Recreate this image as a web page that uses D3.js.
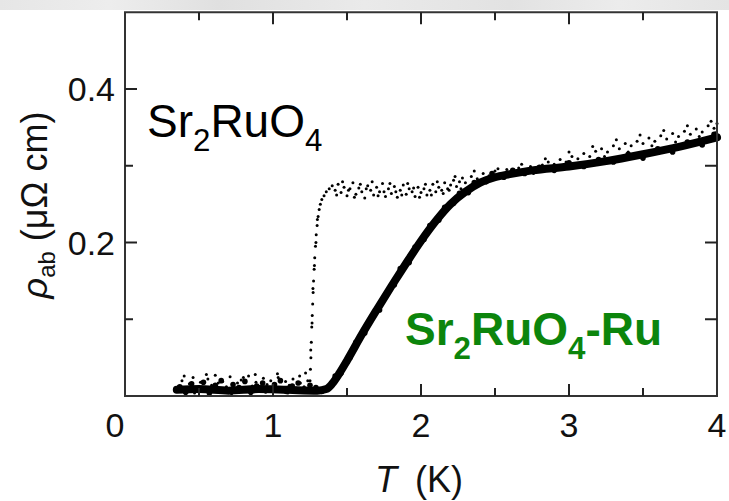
<!DOCTYPE html>
<html><head><meta charset="utf-8">
<script src="https://cdn.jsdelivr.net/npm/d3@7"></script>
<style>body{margin:0;background:#fff}svg{display:block}text{font-family:"Liberation Sans",Arial,sans-serif}</style>
</head><body><svg id="c" width="729" height="501"></svg>
<script>
// ---- data ----
const xTicksMajor = [0, 1, 2, 3, 4];
const xTicksMinor = [0.5, 1.5, 2.5, 3.5];
const yTicksMajor = [0.2, 0.4];
const yTicksMinor = [0.1, 0.3];
const yTicksRight = [0.1, 0.2, 0.3, 0.4];
const xTickLabels = ["0", "1", "2", "3", "4"];
const yTickLabels = ["0.2", "0.4"];

// Sr2RuO4 (pure) : scattered small dots [T (K), rho (μΩ cm)]
const pureT = [0.36,0.385,0.41,0.435,0.46,0.485,0.51,0.535,0.56,0.585,0.61,0.635,0.66,0.685,0.71,0.735,0.76,0.785,0.81,0.835,0.86,0.885,0.91,0.935,0.96,0.985,1.01,1.035,1.06,1.085,1.11,1.135,1.16,1.185,1.21,1.235,
 1.25,1.253,1.256,1.259,1.262,1.265,1.268,1.271,1.274,1.278,1.282,1.287,1.292,1.298,1.305,1.312,1.32,1.33,1.345,1.36,1.38,1.40,
 1.42,1.44,1.46,1.48,1.50,1.52,1.54,1.56,1.58,1.60,1.62,1.64,1.66,1.68,1.70,1.72,1.74,1.76,1.78,1.80,1.82,1.84,1.86,1.88,1.90,1.92,1.94,1.96,1.98,2.00,2.02,2.04,2.06,2.08,2.10,2.12,2.14,2.16,2.18,2.20,2.22,2.24,2.26,2.28,2.30,
 2.34,2.38,2.42,2.46,2.50,2.54,2.58,2.62,2.66,2.70,2.74,2.78,2.82,2.86,2.90,2.94,2.98,3.02,3.06,3.10,3.14,3.18,3.22,3.26,3.30,3.34,3.38,3.42,3.46,3.50,3.54,3.58,3.62,3.66,3.70,3.74,3.78,3.82,3.86,3.90,3.94,3.98,4.00];
const pureRho = [0.012,0.020,0.008,0.016,0.024,0.010,0.018,0.006,0.022,0.014,0.027,0.009,0.019,0.012,0.025,0.007,0.017,0.021,0.010,0.026,0.013,0.018,0.008,0.023,0.015,0.020,0.011,0.024,0.009,0.019,0.014,0.022,0.010,0.017,0.012,0.020,
 0.020,0.035,0.050,0.070,0.090,0.105,0.120,0.135,0.150,0.165,0.180,0.195,0.210,0.222,0.234,0.243,0.250,0.256,0.261,0.266,0.270,0.274,
 0.268,0.276,0.265,0.272,0.261,0.270,0.278,0.263,0.271,0.266,0.258,0.274,0.268,0.262,0.272,0.266,0.277,0.260,0.270,0.264,0.273,0.259,0.268,0.275,0.263,0.270,0.266,0.260,0.272,0.265,0.270,0.262,0.268,0.276,0.266,0.272,0.268,0.278,0.270,0.275,0.281,0.273,0.279,0.284,0.278,
 0.286,0.283,0.290,0.287,0.293,0.289,0.295,0.291,0.297,0.293,0.299,0.295,0.301,0.305,0.302,0.308,0.305,0.312,0.309,0.316,0.312,0.319,0.322,0.318,0.326,0.322,0.329,0.326,0.332,0.329,0.336,0.332,0.339,0.335,0.342,0.338,0.345,0.341,0.348,0.344,0.352,0.349,0.355];
// further Sr2RuO4 dots (scatter around the same curve)
const pureT2 = [0.40,0.47,0.55,0.63,0.72,0.80,0.88,0.95,1.03,1.10,1.18,1.22,
 1.255,1.264,1.270,1.280,1.290,1.300,
 1.43,1.47,1.51,1.55,1.59,1.63,1.67,1.71,1.75,1.79,1.83,1.87,1.91,1.95,1.99,2.03,2.07,2.11,2.15,2.19,2.23,2.27,
 2.36,2.44,2.52,2.60,2.68,2.76,2.84,2.92,3.00,3.08,3.16,3.24,3.32,3.40,3.48,3.56,3.64,3.72,3.80,3.88,3.96,3.99];
const pureRho2 = [0.026,0.004,0.028,0.017,0.003,0.024,0.028,0.005,0.029,0.004,0.026,0.030,
 0.060,0.095,0.140,0.170,0.200,0.230,
 0.262,0.279,0.268,0.259,0.276,0.270,0.279,0.261,0.266,0.277,0.266,0.262,0.277,0.271,0.259,0.276,0.262,0.279,0.264,0.268,0.286,0.270,
 0.293,0.282,0.296,0.286,0.302,0.290,0.309,0.298,0.318,0.304,0.325,0.312,0.334,0.318,0.340,0.326,0.346,0.331,0.352,0.338,0.358,0.343];

// Sr2RuO4-Ru (eutectic) : dense thick band [T (K), rho]
const ruT   = [0.35,0.5,0.7,0.9,1.1,1.3,1.36,1.40,1.45,1.50,1.60,1.70,1.80,1.90,2.00,2.10,2.20,2.30,2.40,2.50,2.60,2.75,3.00,3.25,3.50,3.75,4.00];
const ruRho = [0.008,0.009,0.007,0.009,0.008,0.007,0.009,0.016,0.030,0.046,0.080,0.112,0.143,0.173,0.202,0.228,0.250,0.266,0.278,0.285,0.289,0.294,0.299,0.306,0.315,0.325,0.337];
// individual Ru points scattered within the band
const ruT2 = [0.37,0.41,0.45,0.49,0.53,0.57,0.61,0.65,0.69,0.73,0.77,0.81,0.85,0.89,0.93,0.97,1.01,1.05,1.09,1.13,1.17,1.21,1.25,1.29,1.33,
 1.38,1.42,1.46,1.52,1.56,1.62,1.66,1.72,1.76,1.82,1.86,1.92,1.96,2.02,2.06,2.12,2.16,2.22,2.26,2.32,2.36,2.44,2.48,2.56,2.62,2.70,2.80,2.90,3.00,3.10,3.20,3.30,3.40,3.50,3.60,3.70,3.80,3.90,3.98];
const ruRho2 = [0.012,0.005,0.016,0.009,0.018,0.004,0.014,0.020,0.007,0.015,0.011,0.019,0.005,0.013,0.017,0.008,0.015,0.020,0.006,0.013,0.017,0.009,0.014,0.011,0.006,
 0.012,0.026,0.030,0.050,0.070,0.082,0.100,0.112,0.130,0.145,0.166,0.174,0.194,0.204,0.222,0.229,0.246,0.251,0.264,0.265,0.278,0.279,0.290,0.285,0.294,0.290,0.298,0.294,0.304,0.299,0.308,0.305,0.315,0.310,0.322,0.318,0.331,0.327,0.341];

// ---- drawing ----
const svg = d3.select("#c");
const x = d3.scaleLinear().domain([0, 4]).range([125, 717]);
const y = d3.scaleLinear().domain([0, 0.5]).range([396, 12.25]);

// faint grey band at top of picture
const defs = svg.append("defs");
const g1 = defs.append("linearGradient").attr("id","topg").attr("x1","0").attr("x2","1").attr("y1","0").attr("y2","0");
[["0","#e6e6e6"],["0.15","#ededed"],["0.3","#e0e0e0"],["0.5","#eaeaea"],["0.7","#e2e2e2"],["0.85","#ececec"],["1","#e4e4e4"]]
  .forEach(s=>g1.append("stop").attr("offset",s[0]).attr("stop-color",s[1]));
svg.append("rect").attr("x",0).attr("y",0).attr("width",729).attr("height",10).attr("fill","url(#topg)");

const ink = "#222";
// data
const ruData = ruT.map((t,i)=>[t, ruRho[i]]);
svg.append("path").datum(ruData)
  .attr("d", d3.line().x(d=>x(d[0])).y(d=>y(d[1])).curve(d3.curveMonotoneX))
  .attr("fill","none").attr("stroke","#000").attr("stroke-width",8).attr("stroke-linejoin","round").attr("stroke-linecap","round");
svg.append("g").selectAll("circle").data(ruT2.map((t,i)=>[t, ruRho2[i]])).join("circle")
  .attr("cx",d=>x(d[0])).attr("cy",d=>y(d[1])).attr("r",2.8).attr("fill","#000");

const pureData = pureT.map((t,i)=>[t, pureRho[i]]).concat(pureT2.map((t,i)=>[t, pureRho2[i]]));
svg.append("g").selectAll("circle").data(pureData).join("circle")
  .attr("cx",d=>x(d[0])).attr("cy",d=>y(d[1])).attr("r",1.5).attr("fill","#000");

// frame
svg.append("rect").attr("x",x(0)).attr("y",y(0.5)).attr("width",x(4)-x(0)).attr("height",y(0)-y(0.5))
  .attr("fill","none").attr("stroke","#333").attr("stroke-width",2);

// ticks (inward)
const tk = svg.append("g").attr("stroke",ink).attr("stroke-width",2);
const major = 12, minor = 8;
xTicksMajor.filter(v=>v>0&&v<4).forEach(v=>{
  tk.append("line").attr("x1",x(v)).attr("x2",x(v)).attr("y1",y(0)).attr("y2",y(0)-major);
  tk.append("line").attr("x1",x(v)).attr("x2",x(v)).attr("y1",y(0.5)).attr("y2",y(0.5)+major);
});
xTicksMinor.forEach(v=>{
  tk.append("line").attr("x1",x(v)).attr("x2",x(v)).attr("y1",y(0)).attr("y2",y(0)-minor);
  tk.append("line").attr("x1",x(v)).attr("x2",x(v)).attr("y1",y(0.5)).attr("y2",y(0.5)+minor);
});
yTicksMajor.forEach(v=>tk.append("line").attr("x1",x(0)).attr("x2",x(0)+major).attr("y1",y(v)).attr("y2",y(v)));
yTicksMinor.forEach(v=>tk.append("line").attr("x1",x(0)).attr("x2",x(0)+minor).attr("y1",y(v)).attr("y2",y(v)));
yTicksRight.forEach(v=>tk.append("line").attr("x1",x(4)).attr("x2",x(4)-major).attr("y1",y(v)).attr("y2",y(v)));

// tick labels
svg.append("g").selectAll("text").data(xTicksMajor).join("text")
  .attr("x",d=>x(d)+(d===0?-10:0)).attr("y",437).attr("text-anchor","middle")
  .attr("font-size",34).attr("fill","#111").text((d,i)=>xTickLabels[i]);
svg.append("g").selectAll("text").data(yTicksMajor).join("text")
  .attr("x",x(0)-10).attr("y",d=>y(d)).attr("dy","0.36em").attr("text-anchor","end")
  .attr("font-size",34).attr("fill","#111").text((d,i)=>yTickLabels[i]);

// axis titles
const xt = svg.append("text").attr("x",375).attr("y",492).attr("font-size",36).attr("fill","#111");
xt.append("tspan").attr("font-style","italic").text("T");
xt.append("tspan").attr("dx",18).text("(K)");

const yt = svg.append("text").attr("transform","translate(47,205) rotate(-90)").attr("text-anchor","middle")
  .attr("font-size",36).attr("fill","#111");
yt.append("tspan").attr("font-style","italic").text("ρ");
yt.append("tspan").attr("font-size",24).attr("dy",8).text("ab");
yt.append("tspan").attr("dy",-8).text(" (μΩ cm)");

// annotations
function chem(g, px, py, size, color, weight, parts){
  const t = g.append("text").attr("x",px).attr("y",py).attr("font-size",size).attr("fill",color).attr("font-weight",weight);
  let shift = 0;
  parts.forEach(p=>{
    const sub = p[1];
    const target = sub ? Math.round(size*0.31) : 0;
    t.append("tspan").attr("font-size", sub ? size*0.68 : size).attr("dy", target - shift).text(p[0]);
    shift = target;
  });
}
chem(svg, 147, 137, 46, "#000", "normal", [["Sr",0],["2",1],["RuO",0],["4",1]]);
chem(svg, 405, 345, 46, "#0c850c", "bold", [["Sr",0],["2",1],["RuO",0],["4",1],["-Ru",0]]);
</script></body></html>
